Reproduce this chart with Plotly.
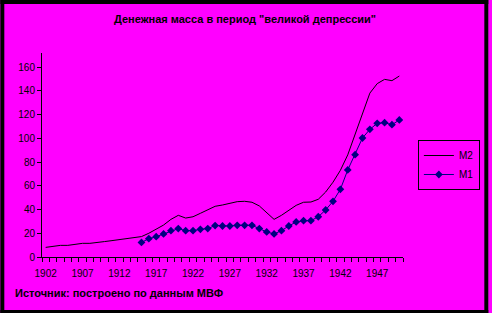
import plotly.graph_objects as go

years = list(range(1902, 1951))
m2 = [8.1, 9.0, 9.8, 9.8, 10.6, 11.5, 11.5, 12.5, 13.0, 13.8, 14.7, 15.7, 16.6, 17.2, 20.0,
      23.4, 26.9, 31.7, 35.1, 32.8, 33.9, 36.8, 39.6, 42.7, 43.8, 45.2, 46.6, 46.9, 46.1,
      43.0, 37.3, 31.7, 35.1, 39.6, 43.5, 46.1, 46.3, 48.6, 54.7, 63.0, 73.0, 86.0, 103.0,
      121.0, 138.0, 146.0, 149.6, 148.5, 152.4]
m1 = [None] * 13 + [12.3, 15.4, 17.1, 19.4, 22.2, 23.9, 22.2, 22.2, 23.3, 23.9, 26.5, 26.1,
                    26.1, 26.7, 26.7, 26.7, 23.9, 21.1, 19.4, 22.2, 26.1, 29.5, 30.6, 30.6,
                    33.9, 39.6, 46.9, 57.0, 73.3, 86.2, 100.2, 107.5, 112.6, 113.1, 111.4, 115.4]
label_years = [1902, 1907, 1912, 1917, 1922, 1927, 1932, 1937, 1942, 1947]
y_ticks = [0, 20, 40, 60, 80, 100, 120, 140, 160]

title = 'Денежная масса в период "великой депрессии"'
source = 'Источник: построено по данным МВФ'

W, H = 492, 313
ML, MR, MT, MB = 42, 86, 53, 56
PW, PH = W - ML - MR, H - MT - MB
MAG = "#FF00FF"
FONT = "Liberation Sans, Arial, sans-serif"


def px(x):
    return (x - ML) / PW


def py(y):
    return (H - MB - y) / PH


fig = go.Figure()
fig.add_trace(go.Scatter(x=years, y=m2, name="M2", mode="lines",
                         line=dict(color="black", width=1)))
fig.add_trace(go.Scatter(x=years, y=m1, name="M1", mode="lines+markers",
                         line=dict(color="#000080", width=1),
                         marker=dict(symbol="diamond", size=6, color="#000080")))

shapes = []
for (x0, x1, y0, y1) in [(0, 4, 0, H), (488, W, 0, H), (0, W, 0, 4), (0, W, 310, H)]:
    shapes.append(dict(type="rect", xref="paper", yref="paper",
                       x0=px(x0), x1=px(x1), y0=py(y1), y1=py(y0),
                       fillcolor="black", line=dict(width=0), layer="above"))

fig.update_layout(
    width=W, height=H,
    margin=dict(l=ML, r=MR, t=MT, b=MB),
    paper_bgcolor=MAG, plot_bgcolor=MAG,
    font=dict(family=FONT, size=10, color="black"),
    showlegend=True,
    legend=dict(x=px(421), y=py(140), xanchor="left", yanchor="top",
                bgcolor=MAG, bordercolor="black", borderwidth=1,
                font=dict(size=10), itemwidth=30, tracegroupgap=0),
    xaxis=dict(range=[1901.5, 1950.5], showgrid=False, zeroline=False,
               showline=True, linecolor="black", linewidth=1,
               tickmode="array", tickvals=label_years, ticks="",
               ticklabelstandoff=7,
               tickfont=dict(size=10),
               minor=dict(tick0=1901.5, dtick=1, ticks="outside", ticklen=4,
                          tickcolor="black", showgrid=False)),
    yaxis=dict(range=[0, 171.8], showgrid=False, zeroline=False,
               showline=True, linecolor="black", linewidth=1,
               tickmode="array", tickvals=y_ticks, ticks="outside", ticklen=4,
               tickcolor="black", tickfont=dict(size=10)),
    shapes=shapes,
    annotations=[
        dict(text="<b>" + title + "</b>", xref="paper", yref="paper",
             x=px(247), y=py(19), xanchor="center", yanchor="middle",
             showarrow=False, font=dict(size=11)),
        dict(text="<b>" + source + "</b>", xref="paper", yref="paper",
             x=px(13), y=py(293), xanchor="left", yanchor="middle",
             showarrow=False, font=dict(size=11)),
    ],
)

fig.write_html("out.html")
